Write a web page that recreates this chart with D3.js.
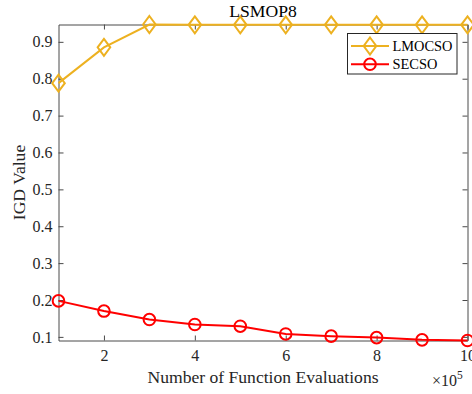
<!DOCTYPE html>
<html>
<head>
<meta charset="utf-8">
<script src="https://cdn.jsdelivr.net/npm/d3@7"></script>
<style>
	body { margin: 0; background: #fff; }
	text { font-family: "Liberation Serif", "Times New Roman", serif; fill: #262626; }
</style>
</head>
<body>
<svg id="chart" width="472" height="394"></svg>
<script>
"use strict";

// function evaluations, in units of 10^5
var evaluations = [1, 2, 3, 4, 5, 6, 7, 8, 9, 10];
var lmocso = [0.788, 0.885, 0.947, 0.946, 0.946, 0.946, 0.946, 0.946, 0.946, 0.946];
var secso = [0.1976, 0.170, 0.147, 0.1336, 0.129, 0.108, 0.102, 0.098, 0.092, 0.0902];
var xTicks = [2, 4, 6, 8, 10];
var yTicks = [0.1, 0.2, 0.3, 0.4, 0.5, 0.6, 0.7, 0.8, 0.9];

var props = {
	left: 58.5,
	right: 467.5,
	top: 24.5,
	bottom: 340.5,
	tick: 5,
	axis_color: '#4a4a4a'
};

var series = [
	{name: 'LMOCSO', values: lmocso, color: '#EDB120', marker: 'diamond'},
	{name: 'SECSO', values: secso, color: '#FF0000', marker: 'circle'}
];

var svg = d3.select('#chart');

var x = d3.scaleLinear()
	.domain([d3.min(evaluations), d3.max(evaluations)])
	.range([props.left, props.right]);

var y = d3.scaleLinear()
	.domain([d3.min(secso), d3.max(lmocso)])
	.range([props.bottom, props.top]);

//draw a marker centred at (cx, cy)
function marker(g, type, cx, cy, color) {
	if(type === 'diamond') {
		g.append('path')
			.attr('d', 'M' + cx + ',' + (cy - 8.5) + 'L' + (cx + 6.3) + ',' + cy +
				'L' + cx + ',' + (cy + 8.5) + 'L' + (cx - 6.3) + ',' + cy + 'Z')
			.attr('fill', 'none')
			.attr('stroke', color)
			.attr('stroke-width', 2);
	} else {
		g.append('circle')
			.attr('cx', cx)
			.attr('cy', cy)
			.attr('r', 5.8)
			.attr('fill', 'none')
			.attr('stroke', color)
			.attr('stroke-width', 2);
	}
}

//axes box with inward ticks on all four sides
var axes = svg.append('g').attr('class', 'axes');

axes.append('g')
	.attr('transform', 'translate(0,' + props.bottom + ')')
	.call(d3.axisBottom(x).tickValues(xTicks).tickSizeInner(-props.tick).tickSizeOuter(0).tickPadding(9));
axes.append('g')
	.attr('transform', 'translate(0,' + props.top + ')')
	.call(d3.axisTop(x).tickValues(xTicks).tickSizeInner(-props.tick).tickSizeOuter(0).tickFormat(''));
axes.append('g')
	.attr('transform', 'translate(' + props.left + ',0)')
	.call(d3.axisLeft(y).tickValues(yTicks).tickSizeInner(-props.tick).tickSizeOuter(0).tickPadding(6).tickFormat(d3.format('.1f')));
axes.append('g')
	.attr('transform', 'translate(' + props.right + ',0)')
	.call(d3.axisRight(y).tickValues(yTicks).tickSizeInner(-props.tick).tickSizeOuter(0).tickFormat(''));

axes.selectAll('.domain, .tick line').attr('stroke', props.axis_color);
axes.selectAll('.tick text')
	.attr('fill', '#262626')
	.style('font-family', '"Liberation Serif", serif')
	.style('font-size', '16px');

//series lines and markers
var line = d3.line()
	.x(function(d, i) { return x(evaluations[i]); })
	.y(function(d) { return y(d); });

series.forEach(function(s) {
	var g = svg.append('g').attr('class', 'series');
	g.append('path')
		.datum(s.values)
		.attr('d', line)
		.attr('fill', 'none')
		.attr('stroke', s.color)
		.attr('stroke-width', 2);
	s.values.forEach(function(v, i) {
		marker(g, s.marker, x(evaluations[i]), y(v), s.color);
	});
});

//title and labels
var mid = (props.left + props.right) / 2;

svg.append('text')
	.attr('x', mid)
	.attr('y', 17)
	.attr('text-anchor', 'middle')
	.style('font-size', '17.6px')
	.style('fill', '#000')
	.text('LSMOP8');

svg.append('text')
	.attr('x', mid)
	.attr('y', 383)
	.attr('text-anchor', 'middle')
	.style('font-size', '17.6px')
	.text('Number of Function Evaluations');

svg.append('text')
	.attr('transform', 'translate(25,' + ((props.top + props.bottom) / 2) + ') rotate(-90)')
	.attr('text-anchor', 'middle')
	.style('font-size', '17.6px')
	.text('IGD Value');

var exponent = svg.append('text')
	.attr('x', 432)
	.attr('y', 386)
	.style('font-size', '16px');
exponent.append('tspan').text('\u00d710');
exponent.append('tspan').attr('dy', -7).style('font-size', '11.5px').text('5');

//legend
var legend = svg.append('g').attr('class', 'legend');
legend.append('rect')
	.attr('x', 347.5)
	.attr('y', 33.5)
	.attr('width', 109.5)
	.attr('height', 40.5)
	.attr('fill', '#fff')
	.attr('stroke', '#262626')
	.attr('stroke-width', 1);

series.forEach(function(s, i) {
	var cy = 46 + i * 18.3;
	legend.append('line')
		.attr('x1', 351)
		.attr('x2', 389)
		.attr('y1', cy)
		.attr('y2', cy)
		.attr('stroke', s.color)
		.attr('stroke-width', 2);
	marker(legend, s.marker, 370, cy, s.color);
	legend.append('text')
		.attr('x', 392.5)
		.attr('y', cy)
		.attr('dy', '0.33em')
		.style('font-size', '14.4px')
		.style('fill', '#000')
		.text(s.name);
});
</script>
</body>
</html>
